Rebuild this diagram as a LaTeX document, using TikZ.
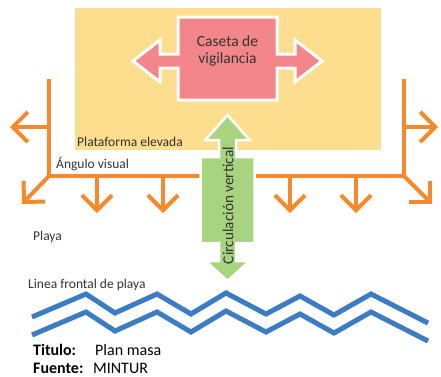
\documentclass[tikz,border=0pt]{standalone}
\usepackage{fontspec}
\setmainfont{Carlito}
\usetikzlibrary{arrows.meta}
\definecolor{plat}{HTML}{FDDD8E}
\definecolor{caseta}{HTML}{F2868B}
\definecolor{circ}{HTML}{A9D47F}
\definecolor{orng}{HTML}{F5892C}
\definecolor{sea}{HTML}{3C7CC4}
\definecolor{txt}{HTML}{333333}
\tikzset{
  lbl/.style={anchor=base west, inner sep=0pt, text=txt, font=\fontsize{13.5}{15}\selectfont},
  foot/.style={anchor=base west, inner sep=0pt, text=black, font=\fontsize{16}{18}\selectfont},
  ray/.style={draw=orng, line width=4pt},
  rayarrow/.style={ray, -{Straight Barb[length=15pt,width=30pt]}},
  wave/.style={draw=sea, line width=5pt, line join=miter},
}
\begin{document}
\begin{tikzpicture}[x=1pt,y=-1pt]
\useasboundingbox (0,0) rectangle (441,376);
% platform
\fill[plat] (75,8) rectangle (381,150);
% orange tree
\coordinate (lt) at (49,79);
\coordinate (lm) at (49,127);
\coordinate (lc) at (49,176);
\coordinate (ltip) at (10,127);
\coordinate (ldiag) at (22,204);
\coordinate (rt) at (404,79);
\coordinate (rm) at (404,127);
\coordinate (rc) at (404,176);
\coordinate (rtip) at (438,127);
\coordinate (rdiag) at (432,204);
\draw[ray] (lt) -- (lc) -- (rc) -- (rt);
\draw[rayarrow] (lm) -- (ltip);
\draw[rayarrow] (rm) -- (rtip);
\draw[rayarrow] (lc) -- (ldiag);
\draw[rayarrow] (rc) -- (rdiag);
\foreach \x/\n in {97/a,163/b,290/c,356/d}{
  \coordinate (s\n) at (\x,176);
  \coordinate (e\n) at (\x,213);
  \draw[rayarrow] (s\n) -- (e\n);
}
% caseta double arrow
\draw[fill=caseta, draw=white, line width=3pt]
 (178,17) -- (277,17) -- (277,54) -- (295,54) -- (295,40) -- (322,61) -- (295,82) -- (295,68) -- (277,68) -- (277,100)
 -- (178,100) -- (178,68) -- (160,68) -- (160,82) -- (133,61) -- (160,40) -- (160,54) -- (178,54) -- cycle;
\node[align=center, inner sep=0pt, text=txt, font=\fontsize{15.5}{17}\selectfont] (cas) at (227.5,51) {Caseta de\\vigilancia};
% circulation arrow
\draw[fill=circ, draw=white, line width=2.5pt]
 (227.5,115) -- (249.5,140) -- (236,140) -- (236,157) -- (254.5,157) -- (254.5,243) -- (236,243) -- (236,261) -- (249.5,261)
 -- (227.5,281) -- (205.5,261) -- (219,261) -- (219,243) -- (200.5,243) -- (200.5,157) -- (219,157) -- (219,140) -- (205.5,140) -- cycle;
\node[rotate=90, inner sep=0pt, text=txt, font=\fontsize{15.3}{17}\selectfont] (circ) at (228,205.5) {Circulación vertical};
% labels
\node[lbl] (plt) at (77,146) {Plataforma elevada};
\node[lbl] (ang) at (56,168) {Ángulo visual};
\node[lbl] (pla) at (33,240) {Playa};
\node[lbl] (lin) at (28,288) {Linea frontal de playa};
% sea line
\draw[wave] (32,317) -- (86,294) -- (115,313) -- (157,294) -- (191,314) -- (226,293) -- (266,314) -- (300,296) -- (334,315) -- (371,294) -- (428,323);
\draw[wave] (32,335) -- (86,312) -- (115,331) -- (157,312) -- (191,332) -- (226,311) -- (266,332) -- (300,314) -- (334,333) -- (371,312) -- (428,341);
% footer
\node[foot, font=\fontsize{16}{18}\selectfont\bfseries] (tit) at (33,355) {Titulo:};
\node[foot] (pm) at (95,355) {Plan masa};
\node[foot, font=\fontsize{16}{18}\selectfont\bfseries] (fue) at (33,373) {Fuente:};
\node[foot] (mi) at (93,373) {MINTUR};
\end{tikzpicture}
\end{document}
